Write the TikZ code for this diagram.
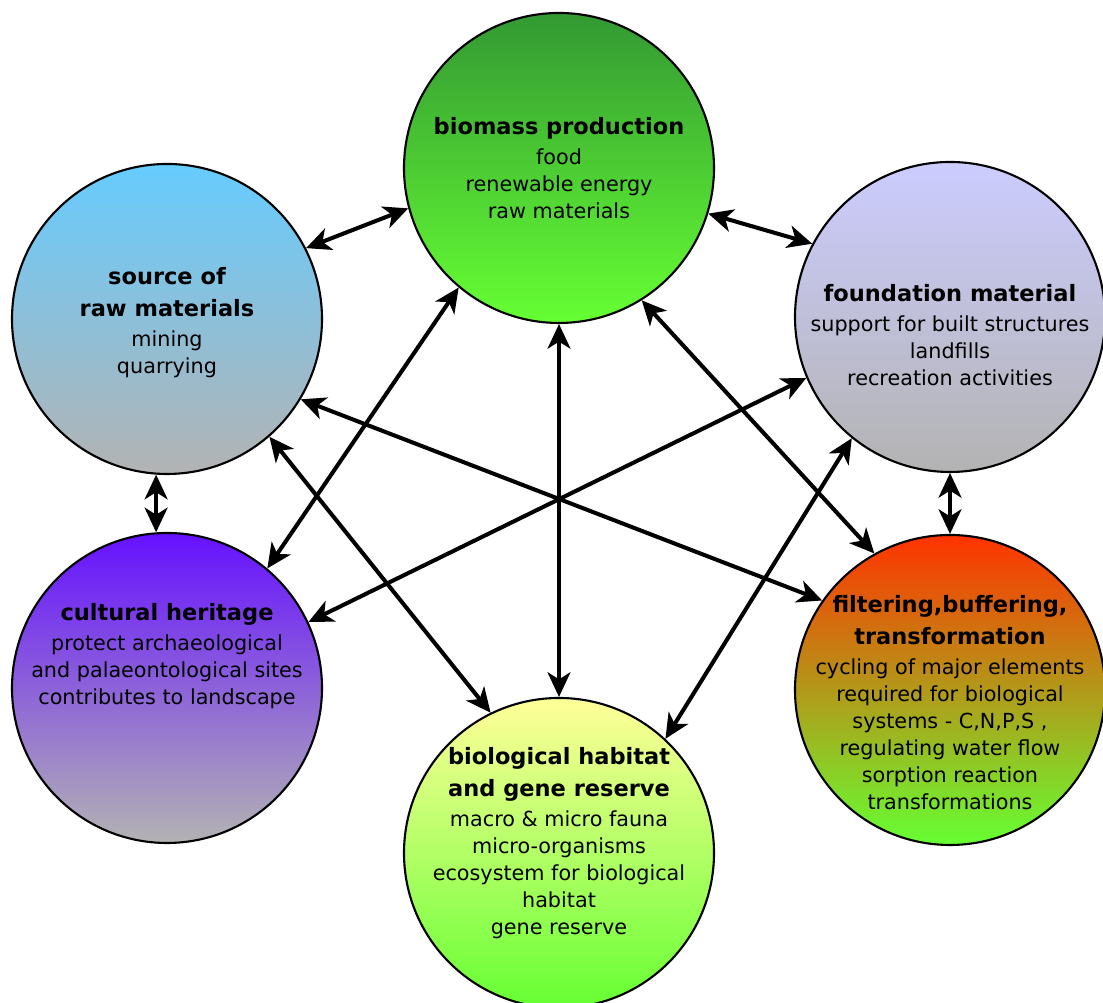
\documentclass[tikz,border=0pt]{standalone}
\usepackage{fontspec}
\setmainfont{DejaVu Sans}
\usetikzlibrary{arrows.meta}

\definecolor{leafdark}{HTML}{339933}
\definecolor{leaflight}{HTML}{66FF33}
\definecolor{skyblue}{HTML}{66CCFF}
\definecolor{stonegrey}{HTML}{B3B3B3}
\definecolor{lavender}{HTML}{CCCCFF}
\definecolor{violet}{HTML}{6611FF}
\definecolor{rust}{HTML}{FF3300}
\definecolor{paleyellow}{HTML}{FFFF99}

\begin{document}
\begin{tikzpicture}[x=1cm,y=1cm,>={Stealth[length=7pt,width=6.5pt,inset=2pt]},
    every node/.style={font=\fontsize{5.9pt}{7.7pt}\selectfont},
    ball/.style={circle,draw,line width=0.6pt,minimum size=3.1cm,inner sep=0pt},
    txt/.style={align=center,inner sep=0pt},
    link/.style={<->,line width=1.15pt}]
    \newcommand{\ttl}[1]{{\fontsize{6.4pt}{9.1pt}\selectfont\bfseries #1}}
    \useasboundingbox (0,0) rectangle (11.03,10.03);

    \node[ball,top color=leafdark,bottom color=leaflight] (bio) at (5.59,8.35) {};
    \node[ball,top color=skyblue,bottom color=stonegrey] (src) at (1.67,6.84) {};
    \node[ball,top color=lavender,bottom color=stonegrey] (fnd) at (9.50,6.86) {};
    \node[ball,top color=violet,bottom color=stonegrey] (cult) at (1.67,3.15) {};
    \node[ball,top color=rust,bottom color=leaflight] (filt) at (9.50,3.13) {};
    \node[ball,top color=paleyellow,bottom color=leaflight] (hab) at (5.59,1.50) {};

    \node[txt] (biot) at (bio.center) {\ttl{biomass production}\\[0.8pt] food\\ renewable energy\\ raw materials};
    \node[txt] (srct) at ([yshift=-0.04cm]src.center) {\ttl{source of}\\[1.4pt] \ttl{raw materials}\\[0.8pt] mining\\ quarrying};
    \node[txt] (fndt) at ([yshift=-0.18cm]fnd.center) {\ttl{foundation material}\\[0.8pt] support for built structures\\ landfills\\ recreation activities};
    \node[txt] (cultt) at ([yshift=0.32cm]cult.center) {\ttl{cultural heritage}\\[0.8pt] protect archaeological\\ and palaeontological sites\\ contributes to landscape};
    \node[txt] (filtt) at ([yshift=-0.13cm]filt.center) {\ttl{filtering,buffering,}\\[1.4pt] \ttl{transformation}\\[0.8pt] cycling of major elements\\ required for biological\\ systems - C,N,P,S ,\\ regulating water flow\\ sorption reaction\\ transformations};
    \node[txt] (habt) at ([yshift=0.10cm]hab.center) {\ttl{biological habitat}\\[1.4pt] \ttl{and gene reserve}\\[0.8pt] macro \& micro fauna\\ micro-organisms\\ ecosystem for biological\\ habitat\\ gene reserve};

    \draw[link] (src.27) -- (bio.195);
    \draw[link] (bio.343) -- (fnd.152);
    \draw[link] (src.266) -- (cult.94);
    \draw[link] (fnd.270) -- (filt.90);
    \draw[link] (bio.270) -- (hab.90);
    \draw[link] (bio.230) -- (cult.50);
    \draw[link] (src.311) -- (hab.116);
    \draw[link] (bio.302) -- (filt.119);
    \draw[link] (fnd.231) -- (hab.47);
    \draw[link] (src.329) -- (filt.145);
    \draw[link] (fnd.203) -- (cult.25);
\end{tikzpicture}
\end{document}
